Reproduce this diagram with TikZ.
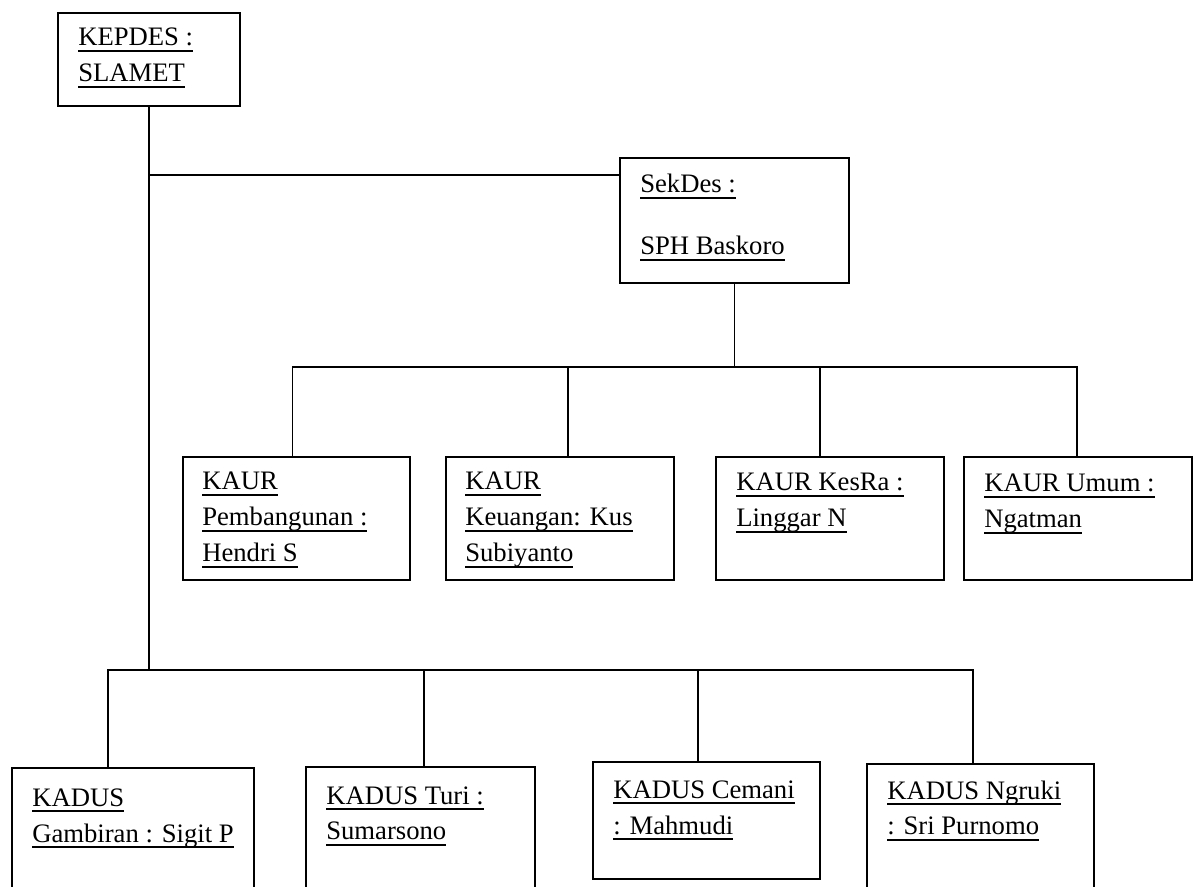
\documentclass[tikz,border=0pt]{standalone}
\usepackage{fontspec}
\setmainfont{Liberation Serif}

\newsavebox{\garisbox}
\newcommand{\garisbawah}[1]{\sbox{\garisbox}{#1}\rlap{\rule[-4.2pt]{\wd\garisbox}{1.2pt}}\usebox{\garisbox}}

\begin{document}
\begin{tikzpicture}[x=0.75pt, y=-0.75pt,
        kotak/.style={draw, line width=1.4pt, anchor=north west, inner sep=0pt},
        teks/.style={anchor=base west, align=left, inner sep=0pt, font=\fontsize{20}{27}\selectfont},
        garis/.style={line width=1.4pt, line cap=rect}]
        \useasboundingbox (0,0) rectangle (1197,887);
        \clip (0,0) rectangle (1197,887);

        % kotak
        \node[kotak, minimum width=136.5pt, minimum height=69.75pt] (kepdes) at (57,12) {};
        \node[kotak, minimum width=171.75pt, minimum height=93.75pt] (sekdes) at (619,157) {};

        \node[kotak, minimum width=170.25pt, minimum height=92.25pt] (kaur1) at (182,456) {};
        \node[kotak, minimum width=171pt, minimum height=92.25pt] (kaur2) at (445,456) {};
        \node[kotak, minimum width=171pt, minimum height=92.25pt] (kaur3) at (715,456) {};
        \node[kotak, minimum width=171pt, minimum height=92.25pt] (kaur4) at (963,456) {};

        \node[kotak, minimum width=181.5pt, minimum height=101.25pt] (kadus1) at (11,767) {};
        \node[kotak, minimum width=171.75pt, minimum height=101.25pt] (kadus2) at (305,766) {};
        \node[kotak, minimum width=170.25pt, minimum height=87.75pt] (kadus3) at (592,761) {};
        \node[kotak, minimum width=170.25pt, minimum height=101.25pt] (kadus4) at (866,763) {};

        % teks (base = baris terakhir)
        \node[teks] (kepdes-t) at ([shift={(21,70)}]kepdes.north west) {\garisbawah{KEPDES :}\\\garisbawah{SLAMET}};
        \node[teks] (sekdes-t) at ([shift={(21,98)}]sekdes.north west) {\garisbawah{SekDes :}\\[19.5pt]\garisbawah{SPH Baskoro}};

        \node[teks] (kaur1-t) at ([shift={(20,106)}]kaur1.north west) {\garisbawah{KAUR}\\\garisbawah{Pembangunan :}\\\garisbawah{Hendri S}};
        \node[teks] (kaur2-t) at ([shift={(20,106)}]kaur2.north west) {\garisbawah{KAUR}\\\garisbawah{Keuangan: Kus}\\\garisbawah{Subiyanto}};
        \node[teks] (kaur3-t) at ([shift={(21,71)}]kaur3.north west) {\garisbawah{KAUR KesRa :}\\\garisbawah{Linggar N}};
        \node[teks] (kaur4-t) at ([shift={(21,72)}]kaur4.north west) {\garisbawah{KAUR Umum :}\\\garisbawah{Ngatman}};

        \node[teks] (kadus1-t) at ([shift={(21,75)}]kadus1.north west) {\garisbawah{KADUS}\\\garisbawah{Gambiran : Sigit P}};
        \node[teks] (kadus2-t) at ([shift={(21,74)}]kadus2.north west) {\garisbawah{KADUS Turi :}\\\garisbawah{Sumarsono}};
        \node[teks] (kadus3-t) at ([shift={(21,73)}]kadus3.north west) {\garisbawah{KADUS Cemani}\\\garisbawah{: Mahmudi}};
        \node[teks] (kadus4-t) at ([shift={(21,72)}]kadus4.north west) {\garisbawah{KADUS Ngruki}\\\garisbawah{: Sri Purnomo}};

        % garis
        \coordinate (sekjoin) at ([shift={(0,68)}]kepdes.south);
        \coordinate (kaurbus) at (0,367);
        \coordinate (kadusbus) at (0,670);

        \draw[garis] (kepdes.south) -- (kepdes.south |- kadusbus);
        \draw[garis] (sekjoin) -- (sekjoin -| sekdes.west);
        \draw[garis] (sekdes.south) -- (sekdes.south |- kaurbus);

        \foreach \n/\dx in {kaur1/-4, kaur2/8, kaur3/-10, kaur4/-1}{
            \coordinate (\n-j) at ([shift={(\dx,0)}]\n.north);
            \draw[garis] (\n-j) -- (\n-j |- kaurbus);
        }
        \draw[garis] (kaur1-j |- kaurbus) -- (kaur4-j |- kaurbus);

        \foreach \n/\dx in {kadus1/-25, kadus2/3.5, kadus3/-8.5, kadus4/-7.5}{
            \coordinate (\n-j) at ([shift={(\dx,0)}]\n.north);
            \draw[garis] (\n-j) -- (\n-j |- kadusbus);
        }
        \draw[garis] (kadus1-j |- kadusbus) -- (kadus4-j |- kadusbus);
    \end{tikzpicture}
\end{document}
